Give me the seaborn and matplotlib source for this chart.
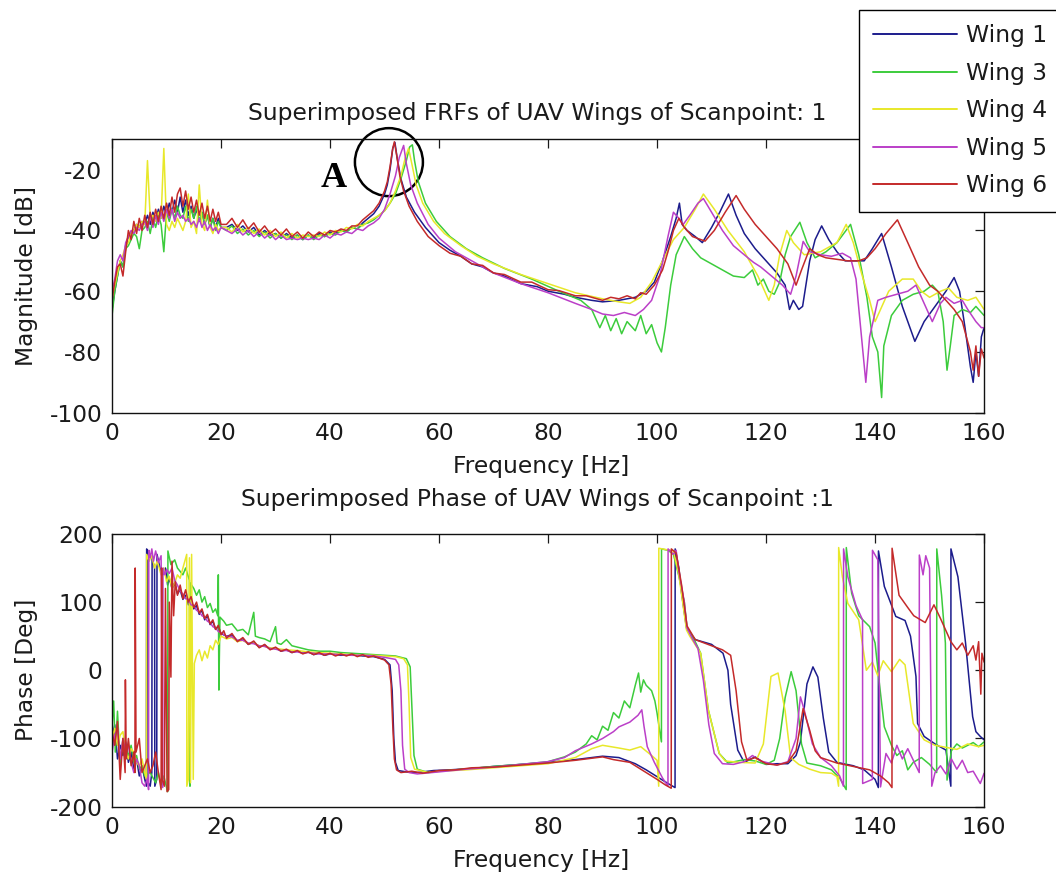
import matplotlib
matplotlib.use("Agg")
import matplotlib.pyplot as plt
import pandas as pd
import seaborn as sns
from matplotlib.lines import Line2D
from matplotlib.patches import Circle
from matplotlib.transforms import ScaledTranslation

# ---------------------------------------------------------------- data
WINGS = ["Wing 1", "Wing 3", "Wing 4", "Wing 5", "Wing 6"]
COLORS = {"Wing 1": "#1c1c8c", "Wing 3": "#3ccc3c", "Wing 4": "#e8e82a",
          "Wing 5": "#bb3fc8", "Wing 6": "#c42a2a"}

# shared frequency bins of the low band [Hz]
FREQ_LOW = [0, 0.5, 1, 1.5, 2, 2.5, 3, 3.5, 4, 4.5, 5, 5.5, 6, 6.5, 7, 7.5, 8, 8.5,
            9, 9.5, 10, 10.5, 11, 11.5, 12, 12.5, 13, 13.5, 14, 14.5, 15, 15.5, 16,
            16.5, 17, 17.5, 18, 18.5, 19, 19.5, 20]
FREQ_MID = [21, 22, 23, 24, 25, 26, 27, 28, 29, 30, 31, 32, 33, 34, 35, 36, 37, 38,
            39, 40, 41, 42, 43, 44, 45, 46, 47]

# magnitude [dB], low band
MAG_LOW_W1 = [-66, -60, -55, -50, -52, -45, -42, -41, -40, -38, -39, -37, -38, -35, -38,
              -34, -37, -33, -36, -32, -35, -31, -34, -30, -34, -29, -34, -30, -35, -32,
              -36, -33, -37, -34, -38, -35, -39, -36, -39, -36, -39]
MAG_LOW_W3 = [-68, -60, -55, -50, -52, -46, -45, -43, -41, -42, -46, -40, -39, -37, -41,
              -36, -39, -35, -38, -47, -34, -37, -33, -36, -32, -35, -36, -32, -37, -33,
              -36, -32, -37, -34, -38, -35, -39, -36, -40, -37, -39]
MAG_LOW_W4 = [-62, -58, -54, -50, -48, -45, -44, -41, -40, -38, -39, -37, -38, -17, -36,
              -35, -37, -34, -36, -13, -38, -40, -37, -39, -36, -38, -40, -37, -28, -39,
              -37, -41, -25, -38, -40, -30, -39, -41, -38, -40, -39]
MAG_LOW_W5 = [-60, -56, -50, -48, -50, -44, -42, -40, -41, -39, -40, -38, -37, -40, -35,
              -39, -35, -38, -34, -37, -33, -36, -33, -37, -34, -36, -35, -37, -36, -38,
              -37, -39, -36, -39, -37, -40, -38, -40, -39, -41, -39]
MAG_LOW_W6 = [-63, -57, -52, -51, -55, -47, -40, -43, -37, -41, -36, -40, -35, -39, -34,
              -38, -33, -37, -32, -36, -31, -35, -29, -34, -28, -26, -32, -27, -33, -29,
              -34, -30, -35, -31, -36, -32, -37, -33, -37, -34, -38]

# magnitude [dB], mid band
MAG_MID_W1 = [-39, -38, -40, -38.5, -40.5, -39, -41.5, -40, -41.5, -41, -42.5, -41, -42.5,
              -41.5, -43, -41.5, -42.5, -41, -42, -40.5, -41, -40, -40.5, -39, -39.5, -37.5, -36]
MAG_MID_W3 = [-40, -38.5, -41, -39.5, -41.5, -40, -42, -40.5, -42.5, -41, -42.5, -41.5, -43,
              -41.5, -43, -41.5, -43, -41.5, -42, -41, -41.5, -40, -40.5, -39, -39.5, -38, -37.5]
MAG_MID_W4 = [-39, -40.5, -38, -40.5, -39, -41, -39.5, -41.5, -40, -42, -40.5, -42.5, -41,
              -42.5, -41.5, -42, -41.5, -42, -40.5, -41.5, -40, -40.5, -39, -39.5, -38, -38.5, -37]
MAG_MID_W5 = [-40, -41, -39.5, -41.5, -40, -42, -40.5, -42.5, -41, -43, -41.5, -43, -42.5,
              -43, -42.5, -43, -42.5, -43, -41.5, -42.5, -41, -41.5, -40.5, -41, -39.5, -40, -38.5]
MAG_MID_W6 = [-38, -36, -39, -36.5, -39.5, -37.5, -40.5, -38.5, -41, -39.5, -41.5, -39.5,
              -42, -40.5, -42.5, -40.5, -42, -40.5, -41.5, -40, -40.5, -39.5, -40, -38.5,
              -38.5, -36.5, -35]

# magnitude [dB], high band as (frequency, value)
MAG_HIGH_W1 = [(48, -34.5), (49, -32), (50, -28), (50.5, -25), (51, -20), (51.5, -13),
               (51.9, -11), (52.3, -16), (53, -23), (54, -29), (55.5, -34), (57.5, -39),
               (60, -44), (62, -46.5), (64, -48.5), (66, -51), (68, -52), (70, -54),
               (72, -55), (75, -57.5), (78, -58.5), (80, -60), (83, -61), (85, -62),
               (88, -63), (90, -63.5), (93, -63), (96, -62), (98, -60), (99.5, -57),
               (101, -50), (102.5, -42), (103.5, -36), (104.1, -31), (104.6, -38),
               (105.5, -40), (107, -42), (108.3, -44), (110, -39), (111.5, -34),
               (113.1, -28), (114.5, -35), (116, -41), (118, -46), (120, -50), (122, -54),
               (123.5, -58), (124.3, -66), (125, -63), (126, -66), (126.7, -65), (128, -50),
               (129, -43), (130.2, -38.5), (131.5, -43), (133, -47), (134.5, -50),
               (136, -50), (138, -50), (139.5, -46), (141.2, -41), (143, -52), (145, -65),
               (147.3, -76.5), (149, -70), (151, -65), (153, -60), (154.5, -55.5),
               (155.5, -60), (156.5, -72), (157.5, -85), (158, -90), (158.5, -80),
               (159, -88), (159.5, -75), (160, -72)]
MAG_HIGH_W3 = [(48, -36.5), (49, -35), (50, -33.5), (51, -31), (52, -28), (53, -23),
               (54, -17), (54.6, -12.5), (55.1, -11.8), (55.5, -17), (56.2, -24),
               (57.5, -31), (59.5, -37), (62, -42), (65, -46), (68, -49), (72, -52.5),
               (77, -56), (82, -60), (86, -63), (88, -66), (89.5, -72), (90.5, -68),
               (91.5, -73), (92.5, -69), (93.5, -74), (94.5, -70), (96, -73), (97, -68),
               (98, -74), (99, -71), (100, -77), (100.8, -80), (101.5, -72), (102.5, -58),
               (103.5, -48), (105, -42), (106.5, -46), (108, -49), (110, -51), (112, -53),
               (114, -55), (116, -55.5), (117.5, -53), (118.5, -58), (119.5, -56),
               (120.5, -60), (121.5, -61), (122.5, -57), (123.5, -48), (124.5, -42),
               (126.2, -37.3), (127.5, -44), (129, -49), (131, -47), (133, -44),
               (135.5, -38), (137, -48), (138.5, -62), (139.5, -75), (140.5, -80),
               (141.2, -95), (141.6, -78), (143, -68), (145, -63), (147, -61), (149, -60),
               (150.5, -58), (151.5, -60), (152.5, -70), (153.2, -86), (153.8, -78),
               (154.5, -68), (156, -66), (157.5, -67), (158.5, -65), (160, -68)]
MAG_HIGH_W4 = [(48, -36), (49, -35), (50, -33.5), (51, -31), (52, -27), (53, -22),
               (53.8, -16), (54.4, -13), (55, -18), (55.8, -25), (57, -31), (59, -37),
               (61, -41), (64, -45), (67, -48.5), (70, -51), (75, -54.5), (80, -57.5),
               (85, -60.5), (90, -62.5), (93, -63.5), (95, -64), (97, -62), (99, -57),
               (101, -50), (103, -43), (105, -39), (107, -33), (108.5, -28), (110.5, -33),
               (113, -40), (116, -47), (118.5, -55), (120.5, -63), (121.5, -58),
               (122.5, -48), (123.8, -40), (125, -44), (127, -48), (130, -47), (133, -44),
               (134.7, -38), (136, -44), (137.5, -54), (139, -63), (140, -70), (141, -66),
               (142.5, -60), (145, -56), (147, -56), (148.5, -60), (150, -62), (152, -60),
               (153.5, -59), (155, -62), (157, -63), (158.5, -62), (160, -66)]
MAG_HIGH_W5 = [(48, -37.5), (49, -36), (50, -33), (51, -28), (52, -22), (52.7, -16),
               (53.5, -12), (54, -18), (54.8, -25), (56, -31), (58, -38), (60, -42.5),
               (63, -47), (66, -50), (70, -54), (75, -57.5), (80, -60.5), (85, -64),
               (88, -66), (90, -67.5), (92, -68), (94, -67), (96, -68), (97.5, -66),
               (99, -63), (100.5, -55), (102, -42), (103, -34), (104, -36), (104.8, -38),
               (106, -35), (107.5, -31), (108.5, -29.5), (110, -34), (112, -40), (114, -45),
               (116, -48), (117.7, -50.5), (119, -52), (121, -55), (123, -58), (124.5, -61),
               (125.5, -55), (126.8, -43.6), (128, -47), (130, -48), (132, -48.5),
               (134, -47.5), (135.5, -49), (136.5, -56), (137.5, -75), (138.3, -90),
               (139, -75), (140.5, -63), (142, -62), (144, -61), (146, -60), (147.5, -58),
               (149, -64), (150.5, -70), (152, -64), (153, -62), (154.5, -64), (156, -63),
               (157, -66), (158.5, -70), (159.5, -72), (160, -72)]
MAG_HIGH_W6 = [(48, -33.5), (49, -31), (50, -27), (50.5, -24), (51, -19), (51.5, -13),
               (51.8, -10.8), (52.2, -15), (52.8, -22), (53.5, -27), (54.5, -32), (56, -37),
               (58, -42), (60, -45), (62, -47.5), (64, -48.5), (66, -51), (68, -51.5),
               (70, -54), (72, -54.5), (75, -57), (77, -57), (80, -59.5), (82, -59.8),
               (85, -61.5), (87, -61.5), (90, -63), (91.5, -62), (93, -62.5), (94.5, -61.5),
               (96, -62.5), (97, -60.5), (98, -61), (99.5, -58), (101, -53), (102, -47),
               (103, -40), (104, -36), (105, -39), (106.5, -42), (108.8, -43.5),
               (110.5, -40), (112.5, -34), (114.5, -28.5), (116, -33), (118, -38),
               (120, -42), (122, -46), (124, -51), (125.5, -58), (126.5, -53), (128, -46),
               (129.5, -48), (131, -49), (133, -49.5), (135, -50), (137, -50), (138.5, -49),
               (140, -46), (142, -41), (144.1, -36.5), (146, -44), (148, -52), (150, -58),
               (151.5, -60), (153, -63), (154.5, -66), (156, -70), (157.5, -80), (158, -86),
               (158.5, -78), (159, -88), (159.5, -79), (160, -82)]

# phase [deg] as (frequency, value)
PHASE_W1 = [(0, -100), (0.5, -80), (1, -130), (1.5, -110), (2, -125), (2.5, -105), (3, -135),
            (3.5, -120), (4, -145), (4.5, -130), (5, -155), (5.5, -140), (6, -160),
            (6.3, -170), (6.35, 178), (6.6, 170), (6.65, -165), (7, -170), (7.3, -150),
            (7.35, 165), (7.8, 150), (7.85, -170), (8.2, -160), (8.25, 170), (8.8, 150),
            (9.3, 140), (9.8, 150), (10.2, 125), (10.5, 135), (11, 120), (11.5, 128),
            (12, 112), (12.5, 118), (13, 104), (13.5, 110), (14, 96), (14.5, 102), (15, 90),
            (15.5, 95), (16, 82), (16.5, 88), (17, 74), (17.5, 80), (18, 67), (18.5, 72),
            (19, 60), (19.5, 64), (20, 54), (21, 50), (22, 52), (23, 43), (24, 46), (25, 38),
            (26, 41), (27, 34), (28, 37), (29, 31), (30, 33), (31, 28), (32, 30), (33, 26),
            (34, 28), (35, 25), (36, 27), (37, 23), (38, 25), (39, 22), (40, 24), (42, 22),
            (44, 23), (46, 21), (48, 20), (49, 18), (50, 16), (51, 8), (51.4, -30),
            (51.7, -100), (52, -135), (52.5, -147), (54, -149), (56, -150), (59, -147),
            (62, -146), (66, -144), (70, -141), (75, -138), (80, -135), (85, -131),
            (88, -128), (90, -126), (93, -128), (96, -137), (98, -146), (100, -156),
            (102, -166), (103.3, -172), (103.32, 178), (104, 150), (104.5, 113),
            (105.4, 62), (107, 45), (110, 38), (112.1, 25), (113, 0), (113.5, -50),
            (114.8, -117), (116, -135), (118, -127), (120, -138), (122, -137), (124, -137),
            (125.5, -125), (126.3, -105), (127.5, -20), (128.6, 5), (129.5, -10),
            (130.5, -70), (131.5, -120), (133, -135), (136, -140), (138, -146), (140, -160),
            (140.6, -172), (140.62, 175), (141.7, 123), (143.8, 79), (145.5, 73),
            (146.5, 50), (147.5, -9), (147.8, -78), (149, -97), (151, -108), (153, -117),
            (153.9, -170), (153.92, 178), (155.2, 137), (156.6, 40), (157.9, -68),
            (158.5, -90), (159.3, -97), (160, -102)]
PHASE_W3 = [(0, -80), (0.3, -45), (0.6, -120), (1, -60), (1.5, -140), (2, -100), (2.5, -115),
            (3, -125), (3.5, -110), (4, -135), (4.5, -125), (5, -145), (5.5, -140), (6, -155),
            (7, -150), (8, -165), (8.5, -150), (9, -168), (9.5, -155), (10, -172),
            (10.2, -178), (10.25, 175), (10.8, 155), (11.5, 162), (12, 150), (12.5, 145),
            (13, 140), (13.5, 150), (14.2, 132), (14.3, -170), (14.35, 128), (15, 120),
            (15.5, 110), (16, 118), (16.5, 100), (17, 108), (17.5, 92), (18, 98), (18.5, 85),
            (19, 90), (19.4, 80), (19.5, 140), (19.6, -29), (19.8, 78), (20.5, 72), (21, 66),
            (22, 68), (23, 58), (24, 60), (25, 52), (26, 85), (26.3, 50), (27, 48), (28, 46),
            (29, 42), (30, 64), (30.3, 40), (31, 38), (32, 45), (33, 36), (34, 34), (35, 32),
            (36, 30), (38, 28), (40, 28), (42, 26), (44, 25), (46, 24), (48, 23), (50, 22),
            (52, 21), (54, 17), (54.7, 5), (55, -50), (55.4, -125), (56, -145), (58, -150),
            (60, -148), (63, -146), (66, -144), (70, -141), (75, -138), (80, -134),
            (83, -127), (85, -120), (87, -108), (88, -96), (89, -102), (90, -82), (91, -88),
            (92, -62), (93, -70), (94, -45), (95, -55), (96, -22), (96.6, -4), (97, -32),
            (97.5, -14), (98, -22), (99, -30), (99.6, -45), (100, -63), (100.5, -90),
            (100.8, -105), (100.82, 178), (102, 176), (103, 170), (104, 138), (105, 100),
            (105.5, 62), (107, 42), (108, 25), (109.4, -58), (111.4, -122), (113, -136),
            (116, -131), (118, -133), (120, -138), (121.5, -132), (122.5, -100),
            (123.5, -40), (124.6, -2), (125.5, -30), (126.5, -108), (127.5, -136),
            (130, -140), (132, -146), (133.5, -158), (134.7, -175), (134.72, 180),
            (135.7, 113), (137, 80), (139, 64), (140, 40), (140.8, -20), (141.7, -83),
            (143, -110), (144, -125), (145, -118), (146, -146), (147, -135), (148.5, -128),
            (150, -138), (151.3, -150), (151.32, 178), (152.2, 110), (152.9, 40),
            (153.2, -161), (154, -118), (155, -108), (156, -114), (157, -110), (158, -106),
            (159, -112), (160, -105)]
PHASE_W4 = [(0, -100), (0.5, -85), (1, -110), (1.5, -95), (2, -90), (2.5, -120), (3, -130),
            (3.5, -115), (4, -120), (4.5, -135), (5, -140), (5.5, -130), (6, -150),
            (6.3, -160), (6.35, 170), (6.8, 160), (7.3, 168), (7.8, 150), (8.3, 160),
            (9, 140), (9.5, 150), (10, 130), (10.5, 138), (11, 120), (11.5, 128), (12, 140),
            (12.5, 135), (13, 150), (13.7, 170), (13.72, -170), (14, -160), (14.2, 165),
            (14.4, -165), (14.6, 170), (14.9, -160), (15.1, 10), (15.5, 22), (16, 30),
            (16.5, 14), (17, 28), (17.5, 18), (18, 36), (18.5, 30), (19, 44), (19.5, 38),
            (20, 50), (21, 46), (22, 48), (23, 42), (24, 44), (25, 39), (26, 40), (27, 36),
            (28, 35), (29, 33), (30, 32), (32, 30), (34, 29), (36, 27), (38, 26), (40, 25),
            (42, 24), (44, 23), (46, 22), (48, 22), (50, 21), (52, 20), (53.5, 17),
            (54.2, 8), (54.5, -50), (54.8, -128), (55.5, -145), (58, -150), (60, -148),
            (65, -146), (70, -143), (75, -140), (80, -137), (85, -128), (88, -115),
            (90, -110), (93, -114), (95, -117), (97, -112), (99, -125), (100, -132),
            (100.3, -170), (100.32, 179), (101, 178), (103, 175), (104, 140), (105.4, 59),
            (106, 50), (108, 25), (109.4, -58), (111.4, -122), (112.5, -133), (115, -135),
            (118, -136), (119.5, -108), (120.9, -9), (122.2, -4), (123.5, -60),
            (124.5, -128), (126, -138), (128, -145), (130, -150), (132, -151), (133, -156),
            (133.3, -170), (133.32, 180), (134, 137), (135, 98), (137, 74), (138.4, 0),
            (139.5, 12), (140.5, -8), (141.5, 14), (143, -2), (144.5, 16), (145.5, 8),
            (147, -78), (149, -102), (151, -110), (153, -113), (155, -116), (157, -108),
            (159, -112), (160, -110)]
PHASE_W5 = [(0, -120), (0.5, -95), (1, -85), (1.5, -130), (2, -100), (2.5, -120), (3, -110),
            (3.5, -135), (4, -150), (4.5, -130), (5, -140), (5.5, -165), (6, -170),
            (6.5, -158), (6.7, -175), (6.75, 176), (7, 165), (7.3, 178), (7.6, 160),
            (8, 175), (8.5, 158), (9, 168), (9.3, -172), (9.35, 150), (9.7, 140), (10, 148),
            (10.5, 142), (11, 150), (11.5, 132), (12, 125), (12.5, 116), (13, 112),
            (13.5, 105), (14, 104), (14.5, 96), (15, 95), (15.5, 88), (16, 86), (16.5, 80),
            (17, 78), (17.5, 72), (18, 70), (18.5, 64), (19, 62), (19.5, 57), (20, 55),
            (21, 50), (22, 49), (23, 44), (24, 44), (25, 40), (26, 39), (27, 36), (28, 35),
            (29, 32), (30, 31), (31, 29), (32, 29), (33, 27), (34, 27), (35, 25), (36, 26),
            (38, 24), (40, 24), (42, 23), (44, 22), (46, 22), (48, 21), (50, 19), (52, 16),
            (52.6, 8), (53, -30), (53.3, -110), (53.7, -145), (54.5, -150), (56, -152),
            (60, -149), (65, -145), (70, -142), (75, -138), (80, -134), (83, -128),
            (85, -118), (88, -108), (90, -100), (92, -90), (93, -83), (95, -76),
            (96.5, -66), (97.2, -58), (97.6, -82), (98.2, -112), (99.5, -135), (101, -158),
            (102, -170), (102.02, 178), (103, 170), (103.5, 176), (104, 145), (105, 100),
            (105.5, 62), (106.5, 46), (107.5, 32), (108.5, -15), (109.5, -80),
            (110.5, -122), (112, -137), (114, -138), (116, -134), (117.5, -125),
            (119, -133), (122, -139), (124, -134), (125.5, -100), (126.3, -39), (127, -58),
            (128.5, -108), (130, -128), (132, -140), (133.5, -155), (134.2, -170),
            (134.22, 178), (135, 137), (136.5, 95), (137.7, 74), (137.72, -166),
            (139.5, -160), (139.52, 176), (140.5, 162), (141, -171), (142, -122),
            (143, -136), (144, -110), (145, -130), (146, -115), (147.5, -140),
            (148.1, -150), (148.12, 169), (148.8, 140), (149.3, 168), (150, 150),
            (150.4, -170), (151, -150), (152, -140), (153, -152), (154, -130), (155, -145),
            (156, -132), (157, -150), (158, -148), (159.3, -166), (160, -151)]
PHASE_W6 = [(0, -90), (0.5, -110), (1, -75), (1.5, -160), (2, -100), (2.4, -150),
            (2.45, -14), (2.6, -130), (3, -100), (3.5, -140), (4, -120), (4.2, -150),
            (4.25, 150), (4.4, -120), (5, -100), (5.5, -150), (6, -140), (6.5, -130),
            (7, -150), (7.5, -140), (8, -120), (8.5, -150), (9, -175), (9.1, 150),
            (9.2, -160), (9.6, -170), (9.8, 120), (10.1, -178), (10.4, -175), (10.5, 100),
            (10.8, -10), (11, 160), (11.3, 80), (11.6, 130), (12, 110), (12.5, 125),
            (13, 105), (13.5, 118), (14, 100), (14.5, 108), (15, 92), (15.5, 100), (16, 84),
            (16.5, 90), (17, 76), (17.5, 82), (18, 68), (18.5, 74), (19, 60), (19.5, 66),
            (20, 52), (20.5, 58), (21, 47), (22, 54), (23, 42), (24, 48), (25, 38), (26, 43),
            (27, 33), (28, 38), (29, 30), (30, 34), (31, 28), (32, 31), (33, 26), (34, 29),
            (35, 24), (36, 27), (37, 23), (38, 26), (39, 22), (40, 25), (41, 21), (42, 24),
            (43, 21), (44, 24), (45, 20), (46, 23), (47, 19), (48, 21), (49, 18), (50, 15),
            (50.8, 8), (51.2, -20), (51.5, -80), (51.8, -130), (52.2, -146), (53, -150),
            (55, -148), (57, -151), (60, -147), (63, -146), (66, -143), (70, -142),
            (75, -139), (80, -136), (85, -132), (88, -129), (90, -127), (92, -131),
            (95, -135), (98, -150), (100, -160), (101.5, -168), (102.6, -173),
            (102.62, 178), (103.5, 172), (104.5, 125), (105.5, 65), (107, 45), (110, 36),
            (112, 30), (113.5, 22), (114.5, -30), (115.5, -105), (116.5, -132), (118, -128),
            (120, -137), (122, -139), (124, -135), (125.5, -118), (126.8, -56), (128, -88),
            (129, -118), (130, -128), (133, -136), (136, -141), (139, -146), (141, -155),
            (142.5, -165), (143.1, -172), (143.12, 179), (144.4, 110), (146, 92),
            (147.1, 80), (149.2, 70), (150.8, 96), (152, 76), (153.9, 42), (155, 30),
            (156, 40), (157, 22), (158, 36), (158.5, 15), (159, 42), (159.4, -35),
            (159.6, 25), (160, 12)]

TITLE_MAG = "Superimposed FRFs of UAV Wings of Scanpoint: 1"
TITLE_PHASE = "Superimposed Phase of UAV Wings of Scanpoint :1"
FREQ_TICKS = [0, 20, 40, 60, 80, 100, 120, 140, 160]
MAG_TICKS = [-100, -80, -60, -40, -20]
PHASE_TICKS = [-200, -100, 0, 100, 200]

# ---------------------------------------------------------------- tables
mag_parts = {"Wing 1": (MAG_LOW_W1, MAG_MID_W1, MAG_HIGH_W1),
             "Wing 3": (MAG_LOW_W3, MAG_MID_W3, MAG_HIGH_W3),
             "Wing 4": (MAG_LOW_W4, MAG_MID_W4, MAG_HIGH_W4),
             "Wing 5": (MAG_LOW_W5, MAG_MID_W5, MAG_HIGH_W5),
             "Wing 6": (MAG_LOW_W6, MAG_MID_W6, MAG_HIGH_W6)}
phase_parts = {"Wing 1": PHASE_W1, "Wing 3": PHASE_W3, "Wing 4": PHASE_W4,
               "Wing 5": PHASE_W5, "Wing 6": PHASE_W6}

mag_frames = []
for wing in WINGS:
    low, mid, high = mag_parts[wing]
    freq = FREQ_LOW + FREQ_MID + [p[0] for p in high]
    vals = low + mid + [p[1] for p in high]
    mag_frames.append(pd.DataFrame({"freq": freq, "value": vals, "Wing": wing}))
mag_df = pd.concat(mag_frames, ignore_index=True)

phase_frames = []
for wing in WINGS:
    pts = phase_parts[wing]
    phase_frames.append(pd.DataFrame({"freq": [p[0] for p in pts],
                                      "value": [p[1] for p in pts], "Wing": wing}))
phase_df = pd.concat(phase_frames, ignore_index=True)

# ---------------------------------------------------------------- figure
sns.set_theme(style="white")
plt.rcParams["font.family"] = ["DejaVu Sans"]
plt.rcParams["axes.unicode_minus"] = False
FS = 16.8
TEXT_C = "#1a1a1a"

fig = plt.figure(figsize=(10.56, 8.77), dpi=100)
fig.patch.set_facecolor("white")
ax1 = fig.add_axes([0.1061, 0.5294, 0.8258, 0.3117])
ax2 = fig.add_axes([0.1061, 0.0802, 0.8258, 0.3110])

for ax, df in ((ax1, mag_df), (ax2, phase_df)):
    sns.lineplot(data=df, x="freq", y="value", hue="Wing", hue_order=WINGS,
                 palette=COLORS, estimator=None, sort=False, linewidth=1.1,
                 legend=False, ax=ax)
    ax.set_xlim(0, 160)
    ax.set_xticks(FREQ_TICKS)
    ax.tick_params(direction="in", top=True, right=True, length=6.5, width=0.9,
                   labelsize=FS, colors=TEXT_C, pad=7)
    for sp in ax.spines.values():
        sp.set_linewidth(1.0)
        sp.set_color("#111111")
    ax.set_facecolor("white")
    ax.set_xlabel("Frequency [Hz]", fontsize=FS, color=TEXT_C)
    ax.xaxis.set_label_coords(0.492, -0.155)

ax1.set_ylim(-100, -10)
ax1.set_yticks(MAG_TICKS)
ax1.set_ylabel("Magnitude [dB]", fontsize=FS, color=TEXT_C)
ax1.yaxis.set_label_coords(-0.085, 0.5)
ax1.set_title(TITLE_MAG, fontsize=FS, color=TEXT_C, pad=14, x=0.488)

ax2.set_ylim(-200, 200)
ax2.set_yticks(PHASE_TICKS)
ax2.set_ylabel("Phase [Deg]", fontsize=FS, color=TEXT_C)
ax2.yaxis.set_label_coords(-0.085, 0.5)
ax2.set_title(TITLE_PHASE, fontsize=FS, color=TEXT_C, pad=20, x=0.488)

# annotation of the first bending peak
peak_center = (50.8, -17.5)
ring = Circle((0, 0), radius=0.34, fill=False, lw=1.8, ec="black", clip_on=False,
              transform=fig.dpi_scale_trans + ScaledTranslation(*peak_center, ax1.transData))
ax1.add_patch(ring)
ax1.text(40.7, -25.7, "A", ha="center", va="baseline", fontsize=26, fontweight="bold",
         family=["Liberation Serif", "DejaVu Serif"], color="black")

handles = [Line2D([], [], color=COLORS[w], lw=1.4) for w in WINGS]
leg = fig.legend(handles, WINGS, loc="upper left", bbox_to_anchor=(0.8134, 0.9886),
                 frameon=True, fancybox=False, edgecolor="black", fontsize=FS,
                 handlelength=3.6, handletextpad=0.35, labelspacing=0.62,
                 borderpad=0.62, borderaxespad=0.0, framealpha=1.0)
leg.get_frame().set_linewidth(1.0)
for t in leg.get_texts():
    t.set_color(TEXT_C)

fig.savefig("out.png", dpi=100, facecolor="white")
